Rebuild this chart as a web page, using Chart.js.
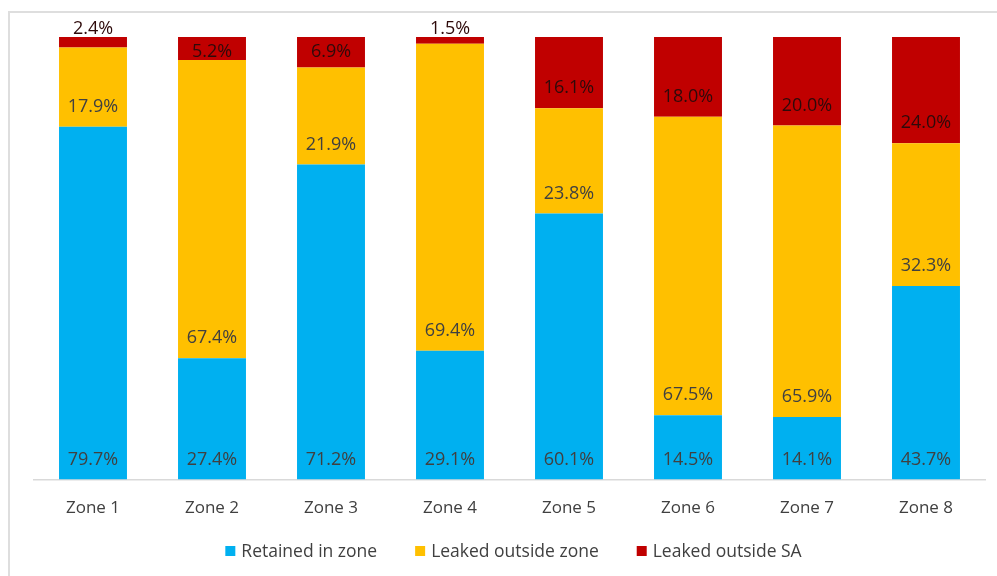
<!DOCTYPE html>
<html>
<head>
<meta charset="utf-8">
<script src="https://cdn.jsdelivr.net/npm/chart.js@4.4.0/dist/chart.umd.min.js"></script>
<style>
  html, body { margin: 0; padding: 0; background: #ffffff; overflow: hidden; }
  #wrap { position: relative; width: 997px; height: 576px; }
  #frame { position: absolute; left: 8px; top: 11px; width: 1200px; height: 800px;
           border-top: 2px solid #dedede; border-left: 2px solid #dedede; }
  canvas { position: absolute; left: 0; top: 0; }
</style>
</head>
<body>
<div id="wrap">
  <div id="frame"></div>
  <canvas id="c" width="997" height="576"></canvas>
</div>
<script>
const categories = ['Zone 1', 'Zone 2', 'Zone 3', 'Zone 4', 'Zone 5', 'Zone 6', 'Zone 7', 'Zone 8'];
const retainedInZone = [79.7, 27.4, 71.2, 29.1, 60.1, 14.5, 14.1, 43.7];
const leakedOutsideZone = [17.9, 67.4, 21.9, 69.4, 23.8, 67.5, 65.9, 32.3];
const leakedOutsideSA = [2.4, 5.2, 6.9, 1.5, 16.1, 18.0, 20.0, 24.0];
const seriesNames = ['Retained in zone', 'Leaked outside zone', 'Leaked outside SA'];

const FONT = "'Open Sans', 'Liberation Sans', sans-serif";
const colors = ['#00B0F0', '#FFC000', '#C00000'];
const labelColors = ['#404040', '#404040', '#2e0a0a'];

const labelPlugin = {
  id: 'segLabels',
  afterDatasetsDraw(chart) {
    const ctx = chart.ctx;
    ctx.save();
    ctx.font = '18px ' + FONT;
    ctx.textAlign = 'center';
    ctx.textBaseline = 'middle';
    chart.data.datasets.forEach((ds, di) => {
      const meta = chart.getDatasetMeta(di);
      meta.data.forEach((el, i) => {
        const top = Math.min(el.y, el.base);
        const base = Math.max(el.y, el.base);
        const h = base - top;
        let cy;
        if (h < 15) cy = top - 8;
        else cy = Math.max(base - 20, top + 15);
        ctx.fillStyle = labelColors[di];
        ctx.fillText(ds.data[i].toFixed(1) + '%', el.x, cy);
      });
    });
    ctx.restore();
  }
};

const legendPlugin = {
  id: 'customLegend',
  afterDraw(chart) {
    const ctx = chart.ctx;
    ctx.save();
    ctx.font = '17.5px ' + FONT;
    ctx.textBaseline = 'middle';
    const box = 10, gapText = 6, gapItem = 38;
    const items = chart.data.datasets.map(d => ({ text: d.label, color: d.backgroundColor, w: ctx.measureText(d.label).width }));
    const total = items.reduce((s, it) => s + box + gapText + it.w, 0) + gapItem * (items.length - 1);
    const ca = chart.chartArea;
    let x = (ca.left + ca.right) / 2 + 4 - total / 2;
    const y = 551;
    items.forEach(it => {
      ctx.fillStyle = it.color;
      ctx.fillRect(x, y - box / 2, box, box);
      ctx.fillStyle = '#404040';
      ctx.fillText(it.text, x + box + gapText, y + 1);
      x += box + gapText + it.w + gapItem;
    });
    ctx.restore();
  }
};

new Chart(document.getElementById('c'), {
  type: 'bar',
  data: {
    labels: categories,
    datasets: [
      { label: seriesNames[0], data: retainedInZone, backgroundColor: colors[0] },
      { label: seriesNames[1], data: leakedOutsideZone, backgroundColor: colors[1] },
      { label: seriesNames[2], data: leakedOutsideSA, backgroundColor: colors[2] }
    ]
  },
  options: {
    responsive: false,
    animation: false,
    devicePixelRatio: 1,
    datasets: { bar: { categoryPercentage: 1, barPercentage: 0.571, borderWidth: 0 } },
    layout: { padding: { left: 33.5, right: 11.5, top: 37, bottom: 39.4 } },
    scales: {
      x: {
        stacked: true,
        grid: { display: false, drawTicks: false },
        border: { display: true, color: '#d9d9d9', width: 1.5 },
        ticks: { color: '#404040', font: { family: FONT, size: 17 }, padding: 18.4 }
      },
      y: {
        stacked: true,
        display: false,
        min: 0,
        max: 100
      }
    },
    plugins: {
      legend: { display: false },
      tooltip: { enabled: false }
    }
  },
  plugins: [labelPlugin, legendPlugin]
});
</script>
</body>
</html>
